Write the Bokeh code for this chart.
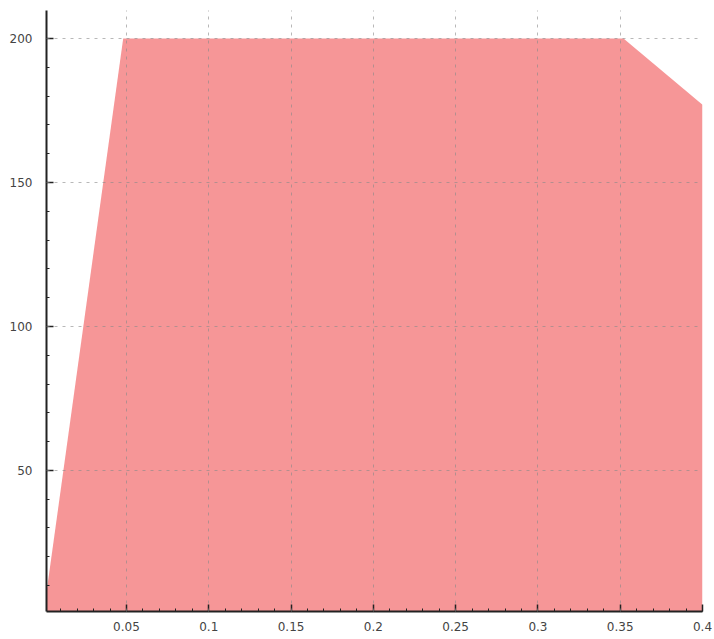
from bokeh.plotting import figure
from bokeh.embed import file_html
from bokeh.resources import INLINE
from bokeh.models import FixedTicker, Range1d

xs = [0.0015, 0.048, 0.352, 0.4]
ys = [8, 200, 200, 177]
x_ticks = [0.05, 0.1, 0.15, 0.2, 0.25, 0.3, 0.35, 0.4]
x_labels = ["0.05", "0.1", "0.15", "0.2", "0.25", "0.3", "0.35", "0.4"]
y_ticks = [50, 100, 150, 200]
y_labels = ["50", "100", "150", "200"]

p = figure(width=712, height=637, output_backend="svg", toolbar_location=None,
           x_range=Range1d(0.0014, 0.4), y_range=Range1d(1, 209.7),
           min_border_left=46, min_border_top=10, min_border_right=10, min_border_bottom=26)
p.outline_line_color = None
p.background_fill_color = "white"

p.varea(x=xs, y1=[0] * len(xs), y2=ys, fill_color="#F69697", fill_alpha=1.0)

minor_x = [round(i * 0.01, 2) for i in range(1, 41)]
minor_y = list(range(10, 210, 10))
p.xaxis.ticker = FixedTicker(ticks=x_ticks, minor_ticks=minor_x)
p.yaxis.ticker = FixedTicker(ticks=y_ticks, minor_ticks=minor_y)
p.xaxis.major_label_overrides = {t: l for t, l in zip(x_ticks, x_labels)}
p.yaxis.major_label_overrides = {t: l for t, l in zip(y_ticks, y_labels)}

for ax in (p.xaxis[0], p.yaxis[0]):
    ax.axis_line_width = 2
    ax.axis_line_color = "#222222"
    ax.major_tick_in = 7
    ax.major_tick_out = 0
    ax.minor_tick_in = 3
    ax.minor_tick_out = 0
    ax.major_tick_line_color = "#222222"
    ax.minor_tick_line_color = "#222222"
    ax.major_tick_line_width = 1.5
    ax.major_label_text_font = "DejaVu Sans"
    ax.major_label_text_font_size = "12px"
    ax.major_label_text_color = "#444444"
p.yaxis.major_label_standoff = 14
p.xaxis.major_label_standoff = 10

for g in (p.xgrid[0], p.ygrid[0]):
    g.grid_line_color = "#888888"
    g.grid_line_alpha = 0.6
    g.grid_line_dash = "3 5"
    g.grid_line_width = 1
    g.level = "overlay"

open("out.html", "w").write(file_html(p, INLINE))
